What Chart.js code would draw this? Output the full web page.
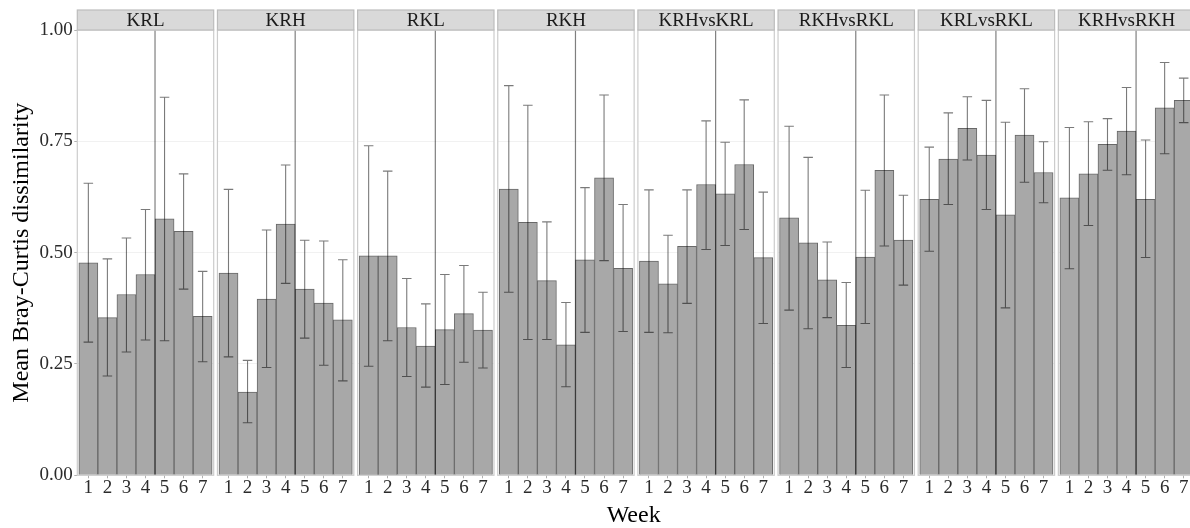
<!DOCTYPE html>
<html>
<head>
<meta charset="utf-8">
<script src="https://cdn.jsdelivr.net/npm/chart.js@4/dist/chart.umd.min.js"></script>
<style>
  html, body { margin: 0; padding: 0; background: #fff; }
  canvas { display: block; }
</style>
</head>
<body>
<canvas id="chart" width="1190" height="528"></canvas>
<script>
// facet names and x categories
const panels = ["KRL", "KRH", "RKL", "RKH", "KRHvsKRL", "RKHvsRKL", "KRLvsRKL", "KRHvsRKH"];
const weeks = [1, 2, 3, 4, 5, 6, 7];
const yTicks = [0, 0.25, 0.5, 0.75, 1];

// mean dissimilarity per week, with lower / upper error bar ends
const KRL    = [0.477, 0.354, 0.406, 0.451, 0.576, 0.548, 0.357];
const KRL_lo = [0.299, 0.223, 0.277, 0.304, 0.302, 0.418, 0.255];
const KRL_hi = [0.656, 0.486, 0.533, 0.597, 0.849, 0.677, 0.458];

const KRH    = [0.454, 0.187, 0.396, 0.564, 0.418, 0.387, 0.349];
const KRH_lo = [0.266, 0.118, 0.242, 0.431, 0.308, 0.247, 0.212];
const KRH_hi = [0.642, 0.258, 0.551, 0.697, 0.528, 0.526, 0.484];

const RKL    = [0.493, 0.493, 0.332, 0.290, 0.327, 0.363, 0.326];
const RKL_lo = [0.245, 0.302, 0.222, 0.198, 0.204, 0.254, 0.241];
const RKL_hi = [0.740, 0.683, 0.442, 0.385, 0.451, 0.471, 0.411];

const RKH    = [0.643, 0.568, 0.437, 0.293, 0.484, 0.668, 0.465];
const RKH_lo = [0.411, 0.305, 0.305, 0.199, 0.321, 0.482, 0.323];
const RKH_hi = [0.875, 0.831, 0.569, 0.388, 0.646, 0.854, 0.608];

const KRHvsKRL    = [0.481, 0.430, 0.514, 0.653, 0.632, 0.698, 0.489];
const KRHvsKRL_lo = [0.321, 0.320, 0.386, 0.507, 0.516, 0.552, 0.341];
const KRHvsKRL_hi = [0.641, 0.539, 0.641, 0.796, 0.748, 0.843, 0.636];

const RKHvsRKL    = [0.578, 0.522, 0.439, 0.337, 0.490, 0.685, 0.528];
const RKHvsRKL_lo = [0.371, 0.329, 0.354, 0.242, 0.341, 0.515, 0.427];
const RKHvsRKL_hi = [0.784, 0.714, 0.524, 0.433, 0.640, 0.854, 0.629];

const KRLvsRKL    = [0.620, 0.710, 0.779, 0.719, 0.585, 0.764, 0.680];
const KRLvsRKL_lo = [0.503, 0.608, 0.708, 0.597, 0.376, 0.658, 0.612];
const KRLvsRKL_hi = [0.737, 0.814, 0.850, 0.842, 0.793, 0.868, 0.749];

const KRHvsRKH    = [0.623, 0.677, 0.743, 0.773, 0.620, 0.825, 0.842];
const KRHvsRKH_lo = [0.464, 0.561, 0.685, 0.675, 0.489, 0.722, 0.792];
const KRHvsRKH_hi = [0.781, 0.794, 0.801, 0.871, 0.753, 0.927, 0.892];

const means = [KRL, KRH, RKL, RKH, KRHvsKRL, RKHvsRKL, KRLvsRKL, KRHvsRKH];
const lows  = [KRL_lo, KRH_lo, RKL_lo, RKH_lo, KRHvsKRL_lo, RKHvsRKL_lo, KRLvsRKL_lo, KRHvsRKH_lo];
const highs = [KRL_hi, KRH_hi, RKL_hi, RKH_hi, KRHvsKRL_hi, RKHvsRKL_hi, KRLvsRKL_hi, KRHvsRKH_hi];

// facet layout on one shared linear x axis (in x units)
const PANEL_STEP = 7.357;   // offset between facets
const PANEL_MIN = 0.42;     // left edge of a facet
const PANEL_MAX = 7.58;     // right edge of a facet
const X_MAX = 58.83;
const VLINE_AT = 4.5;
const CAP = 0.5;

const SERIF = "'Liberation Serif', 'DejaVu Serif', serif";

const points = [];
const tickPos = [];
panels.forEach((name, p) => {
  weeks.forEach((w, i) => {
    points.push({ x: p * PANEL_STEP + w, y: means[p][i] });
    tickPos.push(p * PANEL_STEP + w);
  });
});

// panel backgrounds, strips, error bars, borders
const facetPlugin = {
  id: "facets",
  beforeDatasetsDraw(chart) {
    const { ctx, chartArea, scales: { x } } = chart;
    ctx.save();
    ctx.fillStyle = "#ffffff";
    for (let p = 0; p < panels.length - 1; p++) {
      const r = x.getPixelForValue(p * PANEL_STEP + PANEL_MAX);
      const l = x.getPixelForValue((p + 1) * PANEL_STEP + PANEL_MIN);
      ctx.fillRect(r, chartArea.top, l - r, chartArea.bottom - chartArea.top);
    }
    ctx.restore();
  },
  afterDatasetsDraw(chart) {
    const { ctx, chartArea, scales: { x, y } } = chart;
    ctx.save();
    const top = chartArea.top, bottom = chartArea.bottom;

    panels.forEach((name, p) => {
      const off = p * PANEL_STEP;

      // vertical reference line between week 4 and 5
      const vx = x.getPixelForValue(off + VLINE_AT);
      ctx.strokeStyle = "rgba(0,0,0,0.5)";
      ctx.lineWidth = 1.2;
      ctx.beginPath();
      ctx.moveTo(vx, y.getPixelForValue(1));
      ctx.lineTo(vx, y.getPixelForValue(0));
      ctx.stroke();

      // error bars
      ctx.strokeStyle = "rgba(0,0,0,0.52)";
      ctx.lineWidth = 1.1;
      weeks.forEach((w, i) => {
        const cx = x.getPixelForValue(off + w);
        const half = x.getPixelForValue(off + w + CAP / 2) - cx;
        const yl = y.getPixelForValue(lows[p][i]);
        const yh = y.getPixelForValue(highs[p][i]);
        ctx.beginPath();
        ctx.moveTo(cx, yl);
        ctx.lineTo(cx, yh);
        ctx.moveTo(cx - half, yh);
        ctx.lineTo(cx + half, yh);
        ctx.moveTo(cx - half, yl);
        ctx.lineTo(cx + half, yl);
        ctx.stroke();
      });

      // panel border
      const l = x.getPixelForValue(off + PANEL_MIN);
      const r = x.getPixelForValue(off + PANEL_MAX);
      ctx.strokeStyle = "#cccccc";
      ctx.lineWidth = 1.2;
      ctx.strokeRect(l, top, r - l, bottom - top);

      // strip
      const sh = 20;
      ctx.fillStyle = "#d9d9d9";
      ctx.fillRect(l, top - sh, r - l, sh);
      ctx.strokeStyle = "#bdbdbd";
      ctx.strokeRect(l, top - sh, r - l, sh);
      ctx.fillStyle = "#1a1a1a";
      ctx.font = "19px " + SERIF;
      ctx.textAlign = "center";
      ctx.textBaseline = "middle";
      ctx.fillText(name, (l + r) / 2, top - sh / 2 + 1);
    });
    ctx.restore();
  }
};

new Chart(document.getElementById("chart"), {
  type: "bar",
  data: {
    datasets: [{
      data: points,
      backgroundColor: "#a8a8a8",
      borderColor: "#686868",
      borderWidth: 1,
      barPercentage: 1,
      categoryPercentage: 1
    }]
  },
  options: {
    responsive: false,
    animation: false,
    devicePixelRatio: 1,
    layout: { autoPadding: false, padding: { left: 0, right: 0, top: 30, bottom: 0 } },
    plugins: { legend: { display: false }, tooltip: { enabled: false } },
    scales: {
      x: {
        type: "linear",
        offset: false,
        min: PANEL_MIN,
        max: X_MAX,
        afterFit: (scale) => { scale.height = 52.7; },
        afterBuildTicks: (scale) => { scale.ticks = tickPos.map(v => ({ value: v })); },
        grid: { offset: false, drawOnChartArea: false, drawTicks: true, tickLength: 3, tickColor: "#b0b0b0" },
        border: { display: false },
        ticks: {
          autoSkip: false,
          maxRotation: 0,
          padding: -2,
          color: "#2b2b2b",
          font: { family: SERIF, size: 19 },
          callback: (v, i) => weeks[i % weeks.length]
        },
        title: {
          display: true,
          text: "Week",
          color: "#000000",
          font: { family: SERIF, size: 24, lineHeight: 1 },
          padding: { top: 0, bottom: 0 }
        }
      },
      y: {
        min: 0,
        max: 1,
        afterFit: (scale) => { scale.width = 77.3; },
        afterBuildTicks: (scale) => { scale.ticks = yTicks.map(v => ({ value: v })); },
        grid: {
          drawTicks: true,
          tickLength: 3,
          tickColor: "#b0b0b0",
          color: (c) => (c.tick && c.tick.value > 0 && c.tick.value < 1) ? "#f1f1f1" : "rgba(0,0,0,0)"
        },
        border: { display: false },
        ticks: {
          padding: 1.5,
          color: "#2b2b2b",
          font: { family: SERIF, size: 19 },
          callback: (v) => v.toFixed(2)
        },
        title: {
          display: true,
          text: "Mean Bray-Curtis dissimilarity",
          color: "#000000",
          font: { family: SERIF, size: 24, lineHeight: 1 },
          padding: { top: 9.3, bottom: 0 }
        }
      }
    }
  },
  plugins: [facetPlugin]
});
</script>
</body>
</html>
